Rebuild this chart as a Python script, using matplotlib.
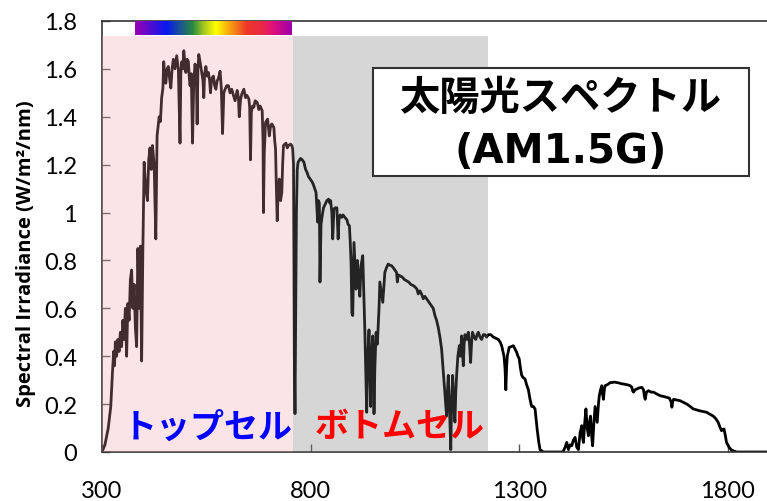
import matplotlib
matplotlib.use("Agg")
import matplotlib.pyplot as plt
import numpy as np
from matplotlib.colors import LinearSegmentedColormap
from matplotlib.patches import Rectangle

plt.rcParams['font.family'] = ['Lato', 'DejaVu Sans']

# ---- data ----
wavelength = [300, 307, 315, 321, 325, 328, 330, 332, 335, 338, 341, 344, 347, 350, 353, 356, 359, 362, 365, 368,
              371, 374, 377, 380, 383, 386, 389, 392, 395, 398, 401, 405, 409, 412, 415, 418, 421, 425, 429, 432,
              437, 440, 443, 446, 448, 451, 453, 456, 459, 462, 465, 468, 471, 475, 479, 483, 487, 489, 491, 494,
              496, 499, 501, 504, 507, 509, 511, 514, 517, 520, 523, 526, 528, 530, 532, 536, 539, 542, 544, 546,
              549, 552, 555, 558, 560, 563, 567, 570, 573, 576, 579, 583, 586, 589, 592, 595, 599, 603, 607, 611,
              615, 619, 624, 627, 629, 632, 635, 640, 644, 647, 652, 654, 656, 658, 661, 664, 667, 672, 676, 679,
              684, 686, 687, 689, 692, 697, 701, 704, 707, 712, 714, 716, 718, 720, 722, 725, 728, 731, 733, 735,
              741, 744, 747, 752, 755, 757, 759, 761, 762.6, 764, 766, 768, 770, 776, 780, 784, 788, 791, 795, 799,
              803, 806, 810, 813, 817, 819, 821, 822.5, 825, 828, 831, 835, 839, 843, 846, 848, 851, 853, 856, 859,
              863, 866, 868, 871, 875, 878, 882, 887, 890, 893, 895, 897, 899, 901, 904, 906, 909, 912, 915, 918,
              921, 925, 927, 930, 932, 934.5, 937, 940, 942, 944, 946, 949, 951, 952, 954, 957, 960, 962, 964, 966,
              970, 973, 976, 978, 982, 986, 990, 994, 998, 1002, 1006, 1008, 1010, 1014, 1020, 1025, 1030, 1035, 1040, 1046,
              1050, 1055, 1058, 1062, 1066, 1070, 1074, 1078, 1082, 1086, 1090, 1094, 1098, 1102, 1106, 1110, 1114, 1117, 1120, 1123,
              1126, 1128, 1130, 1133, 1136, 1138, 1140.6, 1143, 1146, 1148, 1150, 1153, 1156.5, 1159, 1162, 1164, 1166, 1168, 1170, 1174,
              1178, 1181, 1183.5, 1186, 1188, 1192, 1196, 1199, 1202, 1206, 1210, 1214, 1218, 1222, 1226, 1232, 1238, 1244, 1250, 1254,
              1258, 1261, 1263.6, 1266, 1268, 1270, 1271.5, 1276, 1281, 1286, 1290, 1294, 1297, 1300, 1303, 1306, 1310, 1314, 1318, 1322,
              1326, 1330, 1334, 1338, 1341, 1343, 1347, 1350, 1358, 1405, 1410, 1414, 1418, 1422, 1426, 1430, 1434, 1438, 1442, 1446,
              1450, 1452, 1454, 1457, 1460, 1463, 1466, 1468, 1471, 1474, 1476, 1479, 1482, 1485, 1487, 1490, 1492, 1495, 1498, 1500,
              1502, 1504, 1506, 1510, 1514, 1518, 1522, 1528, 1534, 1540, 1545, 1550, 1556, 1561, 1566, 1570, 1572, 1574, 1578, 1582,
              1588, 1594, 1598, 1600, 1602, 1605, 1610, 1616, 1622, 1630, 1638, 1646, 1654, 1660, 1664, 1666, 1668, 1670, 1678, 1686,
              1694, 1702, 1710, 1717, 1725, 1733, 1741, 1749, 1757, 1765, 1771, 1777, 1781, 1785, 1788, 1791, 1794, 1797, 1803, 1809,
              1821, 1894]
irradiance = [0.0, 0.03, 0.10, 0.19, 0.33, 0.42, 0.36, 0.46, 0.40, 0.47, 0.42, 0.50, 0.44, 0.55, 0.47, 0.60, 0.40, 0.62, 0.55, 0.72,
              0.76, 0.60, 0.70, 0.52, 0.44, 0.85, 0.60, 0.86, 0.38, 0.85, 1.21, 1.10, 1.05, 1.22, 1.27, 1.18, 1.28, 1.20, 0.89, 1.32,
              1.40, 1.38, 1.48, 1.52, 1.63, 1.55, 1.54, 1.60, 1.61, 1.56, 1.52, 1.60, 1.64, 1.60, 1.655, 1.60, 1.29, 1.58, 1.63, 1.60,
              1.676, 1.62, 1.585, 1.64, 1.63, 1.57, 1.53, 1.58, 1.29, 1.55, 1.62, 1.58, 1.37, 1.60, 1.66, 1.62, 1.585, 1.55, 1.48, 1.58,
              1.61, 1.57, 1.585, 1.55, 1.50, 1.56, 1.57, 1.53, 1.515, 1.55, 1.56, 1.59, 1.52, 1.33, 1.50, 1.515, 1.53, 1.53, 1.50, 1.515,
              1.49, 1.467, 1.51, 1.48, 1.40, 1.47, 1.495, 1.515, 1.48, 1.49, 1.475, 1.44, 1.22, 1.42, 1.445, 1.44, 1.467, 1.46, 1.43, 1.445,
              1.425, 1.30, 1.00, 1.25, 1.377, 1.39, 1.32, 1.36, 1.37, 1.355, 1.30, 1.265, 1.10, 0.966, 1.08, 1.14, 1.05, 1.084, 1.20, 1.28,
              1.29, 1.27, 1.28, 1.286, 1.28, 1.265, 1.20, 0.40, 0.16, 0.50, 1.00, 1.18, 1.21, 1.226, 1.22, 1.21, 1.18, 1.17, 1.15, 1.14,
              1.13, 1.12, 1.10, 1.084, 0.96, 1.05, 1.04, 0.71, 0.95, 0.99, 1.02, 1.035, 1.05, 1.056, 1.04, 1.05, 1.00, 0.89, 1.015, 1.02,
              1.02, 0.89, 0.97, 0.99, 0.98, 0.99, 0.98, 0.97, 0.95, 0.945, 0.88, 0.79, 0.58, 0.57, 0.875, 0.80, 0.68, 0.80, 0.74, 0.65,
              0.78, 0.82, 0.70, 0.51, 0.35, 0.166, 0.40, 0.51, 0.35, 0.19, 0.40, 0.485, 0.30, 0.16, 0.35, 0.50, 0.45, 0.53, 0.60, 0.71,
              0.66, 0.625, 0.70, 0.75, 0.77, 0.785, 0.78, 0.778, 0.77, 0.76, 0.75, 0.71, 0.74, 0.736, 0.73, 0.72, 0.715, 0.71, 0.70, 0.695,
              0.69, 0.68, 0.66, 0.673, 0.66, 0.64, 0.65, 0.64, 0.63, 0.62, 0.61, 0.60, 0.57, 0.55, 0.52, 0.48, 0.43, 0.36, 0.29, 0.22,
              0.15, 0.25, 0.32, 0.18, 0.01, 0.20, 0.32, 0.20, 0.125, 0.25, 0.32, 0.40, 0.444, 0.40, 0.485, 0.42, 0.36, 0.45, 0.49, 0.47,
              0.50, 0.45, 0.374, 0.46, 0.50, 0.48, 0.47, 0.49, 0.50, 0.48, 0.47, 0.49, 0.49, 0.48, 0.49, 0.49, 0.48, 0.475, 0.47, 0.46,
              0.444, 0.42, 0.40, 0.35, 0.26, 0.36, 0.40, 0.437, 0.44, 0.444, 0.43, 0.416, 0.40, 0.39, 0.35, 0.32, 0.31, 0.305, 0.28, 0.26,
              0.22, 0.19, 0.19, 0.18, 0.13, 0.096, 0.04, 0.01, 0.0, 0.0, 0.02, 0.04, 0.01, 0.03, 0.026, 0.05, 0.061, 0.02, 0.01, 0.08,
              0.11, 0.06, 0.04, 0.12, 0.18, 0.10, 0.068, 0.12, 0.15, 0.06, 0.026, 0.12, 0.19, 0.15, 0.124, 0.20, 0.235, 0.26, 0.277, 0.24,
              0.22, 0.26, 0.277, 0.28, 0.284, 0.29, 0.29, 0.292, 0.29, 0.288, 0.285, 0.284, 0.282, 0.28, 0.277, 0.27, 0.255, 0.25, 0.26, 0.263,
              0.268, 0.27, 0.26, 0.235, 0.22, 0.25, 0.256, 0.25, 0.25, 0.242, 0.235, 0.232, 0.228, 0.225, 0.21, 0.187, 0.21, 0.22, 0.217, 0.214,
              0.207, 0.20, 0.19, 0.18, 0.176, 0.172, 0.169, 0.166, 0.158, 0.15, 0.14, 0.124, 0.105, 0.089, 0.094, 0.096, 0.07, 0.04, 0.02, 0.008,
              0.0, 0.0]

x_ticks = [300, 800, 1300, 1800]
y_ticks = [0, 0.2, 0.4, 0.6, 0.8, 1.0, 1.2, 1.4, 1.6, 1.8]
y_tick_labels = ['0', '0.2', '0.4', '0.6', '0.8', '1', '1.2', '1.4', '1.6', '1.8']

top_cell_range = (300, 758)
bottom_cell_range = (758, 1225)
visible_range = (380, 755)
rainbow_nm = [380, 455, 518, 545, 573, 607, 647, 685, 710, 752, 755]
rainbow_colors = ['#9A00B4', '#0818F0', '#2A8A40', '#A8C820', '#FFFF00', '#F8A010',
                  '#EE3828', '#E82848', '#E0107A', '#A000A8', '#A000A8']

title_line1 = '太陽光スペクトル'
title_line2 = '(AM1.5G)'
top_label = 'トップセル'
bottom_label = 'ボトムセル'
y_label = 'Spectral Irradiance (W/m²/nm)'

# ---- figure ----
fig = plt.figure(figsize=(7.67, 5.02), dpi=100)
ax = fig.add_axes([102 / 767, 49 / 502, 665 / 767, 431 / 502])

ax.plot(wavelength, irradiance, color='black', lw=2.0, zorder=2, solid_joinstyle='round')

shade_top = 1.737 / 1.8
ax.axvspan(*top_cell_range, ymin=0, ymax=shade_top, color=(0.94, 0.63, 0.67), alpha=0.28, lw=0, zorder=3)
ax.axvspan(*bottom_cell_range, ymin=0, ymax=shade_top, color=(0.47, 0.47, 0.47), alpha=0.30, lw=0, zorder=3)

# visible-light rainbow bar
pos = [(n - rainbow_nm[0]) / (rainbow_nm[-1] - rainbow_nm[0]) for n in rainbow_nm]
cmap = LinearSegmentedColormap.from_list('vis', list(zip(pos, rainbow_colors)))
grad = np.linspace(0, 1, 256)[None, :]
ax.imshow(grad, cmap=cmap, aspect='auto', extent=[visible_range[0], visible_range[1], 1.742, 1.80],
          zorder=4, interpolation='bilinear')

ax.set_xlim(300, 1894)
ax.set_ylim(0, 1.8)
ax.set_xticks(x_ticks)
ax.set_xticklabels([str(t) for t in x_ticks])
ax.set_yticks(y_ticks)
ax.set_yticklabels(y_tick_labels)
ax.tick_params(direction='in', length=6, width=1, color='#555555', labelsize=17, pad=18)
ax.tick_params(axis='x', pad=20)

for s in ['left', 'bottom', 'top']:
    ax.spines[s].set_color('#333333')
    ax.spines[s].set_linewidth(1.2)
ax.spines['right'].set_visible(False)

fig.text(26 / 767, 1 - 254 / 502, y_label, rotation=90, ha='center', va='center',
         fontsize=14.5, fontweight='bold', family=['Open Sans', 'DejaVu Sans'])

# annotations
ax.text(554, 0.109, top_label, color='#0000FF', fontsize=24.5, fontweight='bold',
        family=['Noto Sans CJK JP', 'DejaVu Sans'], ha='center', va='center', zorder=6)
ax.text(1014, 0.109, bottom_label, color='#FF0000', fontsize=24.5, fontweight='bold',
        family=['Noto Sans CJK JP', 'DejaVu Sans'], ha='center', va='center', zorder=6)

ax.add_patch(Rectangle((0.4075, 0.6404), 0.5654, 0.2506, transform=ax.transAxes,
                       facecolor='white', edgecolor='#333333', lw=1.5, zorder=6))
ax.text(0.6887, 0.8225, title_line1, transform=ax.transAxes, fontsize=29, fontweight='bold',
        family=['Noto Sans CJK JP', 'DejaVu Sans'], ha='center', va='center', zorder=7)
ax.text(0.6900, 0.6984, title_line2, transform=ax.transAxes, fontsize=29, fontweight='bold',
        family=['DejaVu Sans'], ha='center', va='center', zorder=7)

fig.savefig('out.png', dpi=100)
